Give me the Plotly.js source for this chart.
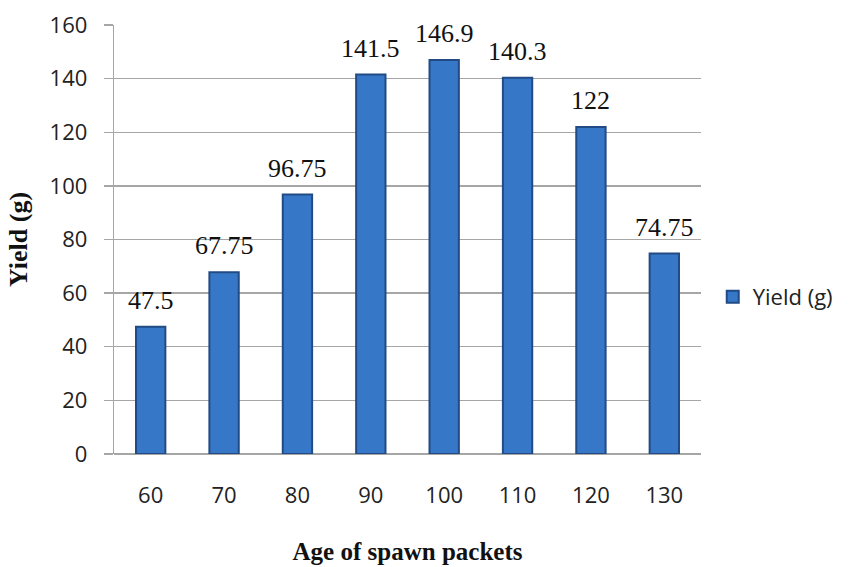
<!DOCTYPE html>
<html><head><meta charset="utf-8">
<script src="https://cdn.plot.ly/plotly-3.0.1.min.js"></script>
<style>body{margin:0;background:#fff}#c{width:850px;height:567px}</style>
</head><body><div id="c"></div>
<script>
const categories = ['60','70','80','90','100','110','120','130'];
const yieldValues = [47.5, 67.75, 96.75, 141.5, 146.9, 140.3, 122, 74.75];
const valueLabels = ['47.5','67.75','96.75','141.5','146.9','140.3','122','74.75'];
const yTicks = [0,20,40,60,80,100,120,140,160];

const trace = {
  type: 'bar', x: categories, y: yieldValues, name: 'Yield (g)',
  marker: {color: '#3777c8', line: {color: '#224b85', width: 2}},
  width: 0.4, hoverinfo: 'none'
};
const annotations = categories.map((c,i)=>({
  x: i, y: yieldValues[i], xref: 'x', yref: 'y', text: valueLabels[i], showarrow: false,
  yanchor: 'bottom', yshift: 10,
  font: {family: 'Liberation Serif, Times New Roman, serif', size: 26, color: '#111'}
}));
const layout = {
  width: 850, height: 567,
  margin: {l: 114, r: 143, t: 25, b: 113},
  paper_bgcolor: '#fff', plot_bgcolor: '#fff',
  showlegend: true,
  legend: {x: 1.02, y: 0.366, xanchor: 'left', yanchor: 'middle',
    font: {family: 'Open Sans, Noto Sans, sans-serif', size: 22, color: '#222'}},
  xaxis: {type: 'category', range: [-0.5, 7.5], showgrid: false, zeroline: false,
    showline: false, ticks: '',
    tickfont: {family: 'Open Sans, Noto Sans, sans-serif', size: 22, color: '#222'},
    ticklabelstandoff: 26,
    title: {text: '<b>Age of spawn packets</b>', standoff: 34,
      font: {family: 'Liberation Serif, Times New Roman, serif', size: 25, color: '#111'}}},
  yaxis: {range: [0,160], tickvals: yTicks, showgrid: true, gridcolor: '#a6a6a6', gridwidth: 1.3,
    zeroline: true, zerolinecolor: '#a6a6a6', zerolinewidth: 1.3,
    showline: true, linecolor: '#a6a6a6', linewidth: 1.3,
    ticks: 'outside', ticklen: 9, tickcolor: '#a6a6a6', tickwidth: 1.3,
    tickfont: {family: 'Open Sans, Noto Sans, sans-serif', size: 22, color: '#222'},
    ticklabelstandoff: 12,
    title: {text: '<b>Yield (g)</b>', standoff: 14,
      font: {family: 'Liberation Serif, Times New Roman, serif', size: 26, color: '#111'}}},
  annotations: annotations
};
Plotly.newPlot('c', [trace], layout, {displayModeBar: false, staticPlot: true});
</script></body></html>
